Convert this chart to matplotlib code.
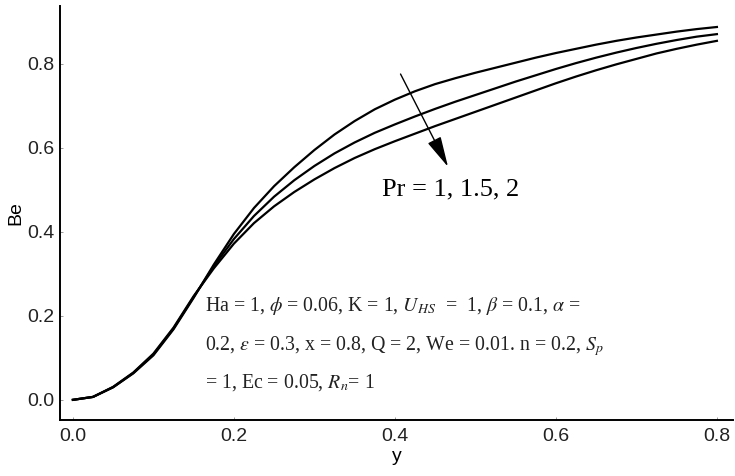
import matplotlib
matplotlib.use("Agg")
import matplotlib.pyplot as plt

plt.rcParams['mathtext.fontset'] = 'stix'

# Data
y_vals = [0.0, 0.025, 0.05, 0.075, 0.1, 0.125, 0.15, 0.175, 0.2, 0.225, 0.25,
          0.275, 0.3, 0.325, 0.35, 0.375, 0.4, 0.425, 0.45, 0.475, 0.5,
          0.525, 0.55, 0.575, 0.6, 0.625, 0.65, 0.675, 0.7, 0.725, 0.75,
          0.775, 0.8]
be_pr1 = [0.0, 0.007, 0.030, 0.063, 0.106, 0.168, 0.243, 0.322, 0.395, 0.457, 0.509,
          0.554, 0.595, 0.632, 0.664, 0.692, 0.715, 0.735, 0.752, 0.766, 0.779,
          0.791, 0.803, 0.815, 0.826, 0.836, 0.846, 0.855, 0.863, 0.870, 0.877,
          0.883, 0.888]
be_pr15 = [0.0, 0.007, 0.030, 0.064, 0.108, 0.170, 0.245, 0.318, 0.383, 0.438, 0.484,
           0.523, 0.557, 0.587, 0.613, 0.636, 0.656, 0.675, 0.693, 0.710, 0.726,
           0.742, 0.758, 0.773, 0.788, 0.802, 0.815, 0.827, 0.838, 0.848, 0.857,
           0.865, 0.871]
be_pr2 = [0.0, 0.007, 0.031, 0.065, 0.110, 0.172, 0.247, 0.313, 0.372, 0.421, 0.461,
          0.495, 0.525, 0.552, 0.576, 0.597, 0.616, 0.634, 0.652, 0.669, 0.686,
          0.703, 0.720, 0.737, 0.754, 0.770, 0.785, 0.799, 0.812, 0.825, 0.836,
          0.846, 0.855]
x_ticks = [0.0, 0.2, 0.4, 0.6, 0.8]
y_ticks = [0.0, 0.2, 0.4, 0.6, 0.8]

fig = plt.figure(figsize=(7.35, 4.76), dpi=100)
ax = fig.add_axes([60/735, 56/476, 673/735, 414/476])

for s in (be_pr1, be_pr15, be_pr2):
    ax.plot(y_vals, s, color='black', lw=1.6, solid_joinstyle='round')

ax.set_xlim(-0.016, 0.82)
ax.set_ylim(-0.048, 0.938)
ax.set_xticks(x_ticks)
ax.set_yticks(y_ticks)
ax.set_xticklabels([f"{v:.1f}" for v in x_ticks], fontfamily='Liberation Sans', fontsize=14, color='#222222')
ax.set_yticklabels([f"{v:.1f}" for v in y_ticks], fontfamily='Liberation Sans', fontsize=14, color='#222222')
ax.tick_params(direction='in', length=2, width=0.6, color='#888888')
ax.tick_params(axis='y', pad=4)
ax.tick_params(axis='x', pad=6)
for side in ('top', 'right'):
    ax.spines[side].set_visible(False)
for side in ('left', 'bottom'):
    ax.spines[side].set_linewidth(1.4)

ax.set_xlabel('y', fontfamily='Liberation Sans', fontsize=14, labelpad=2)
ax.set_ylabel('Be', fontfamily='Liberation Sans', fontsize=14, labelpad=2)

# Arrow
ax.annotate('', xy=(0.466, 0.555), xytext=(0.407, 0.776),
            arrowprops=dict(arrowstyle='-|>,head_length=1.9,head_width=0.45',
                            color='black', lw=1.0, shrinkA=0, shrinkB=0))
ax.text(0.384, 0.502, 'Pr = 1, 1.5, 2', fontfamily='Liberation Serif', fontsize=19,
        ha='left', va='center')

params = [r'Ha = 1, $\phi$ = 0.06, K = 1, $U_{HS}$  =  1, $\beta$ = 0.1, $\alpha$ =',
          r'0.2, $\varepsilon$ = 0.3, x = 0.8, Q = 2, We = 0.01. n = 0.2, $S_p$',
          r'= 1, Ec = 0.05, $R_n$= 1']
ys = [0.224, 0.129, 0.041]
for t, yy in zip(params, ys):
    ax.text(0.164, yy, t, fontfamily='Liberation Serif', fontsize=14.3,
            ha='left', va='center', color='#222222')

fig.savefig('out.png', dpi=100)
